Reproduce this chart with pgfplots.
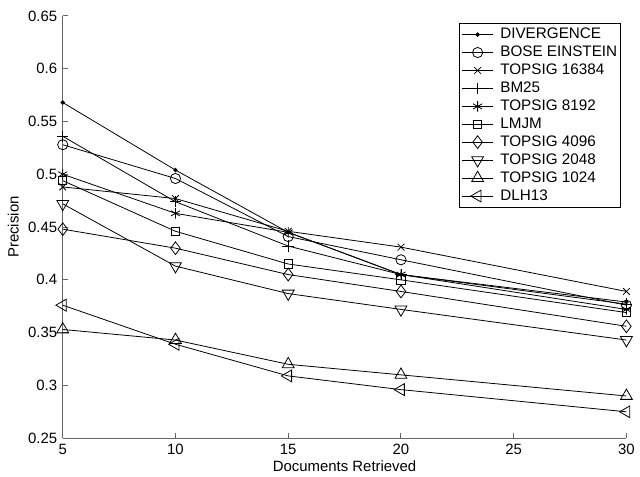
\documentclass[border=0pt]{standalone}
\usepackage{fontspec}
\setmainfont{Liberation Sans}
\usepackage{pgfplots}
\pgfplotsset{compat=1.18}
\begin{document}
\begin{tikzpicture}[font=\fontsize{9.4}{11.2}\selectfont]
\begin{axis}[
  scale only axis,
  width=353.75bp, height=265bp,
  xmin=5, xmax=30, ymin=0.25, ymax=0.65,
  xtick={5,10,15,20,25,30},
  ytick={0.25,0.3,0.35,0.4,0.45,0.5,0.55,0.6,0.65},
  /pgf/number format/assume math mode=true,
  yticklabel style={/pgf/number format/fixed,/pgf/number format/precision=2},
  axis x line*=bottom, axis y line*=left,
  axis line style={black!60, line width=0.6bp},
  tick style={black!60, line width=0.6bp},
  major tick length=3bp,
  tick align=inside,
  xlabel={Documents Retrieved},
  ylabel={Precision},
  xlabel style={at={(axis description cs:0.5,0)},anchor=center,yshift=-17.5bp},
  ylabel style={at={(axis description cs:0,0.5)},anchor=center,yshift=31bp},
  every axis plot/.append style={black, solid, line width=0.5bp},
  legend style={at={(0.991,0.983)}, anchor=north east, draw=black, line width=0.6bp, inner sep=1.5bp, row sep=0.5bp, font=\fontsize{9.6}{11.2}\selectfont, nodes={inner xsep=0.8bp, inner ysep=1.3bp}},
  legend cell align=left,
  legend image code/.code={\draw[mark repeat=2,mark phase=2] plot coordinates {(0bp,0bp) (9.7bp,0bp) (19.4bp,0bp)};},
]
\addplot[mark=*, mark size=1.1bp, mark options={solid}] coordinates {(5,0.568)(10,0.504)(15,0.445)(20,0.405)(30,0.379)};
\addlegendentry{\hspace{3.5bp}DIVERGENCE}
\addplot[mark=o, mark size=3.2bp, mark options={solid}] coordinates {(5,0.528)(10,0.496)(15,0.441)(20,0.419)(30,0.376)};
\addlegendentry{\hspace{3.5bp}BOSE EINSTEIN}
\addplot[mark=x, mark size=3bp, mark options={solid}] coordinates {(5,0.488)(10,0.477)(15,0.446)(20,0.431)(30,0.389)};
\addlegendentry{\hspace{3.5bp}TOPSIG 16384}
\addplot[mark=+, mark size=3.6bp, mark options={solid}] coordinates {(5,0.536)(10,0.474)(15,0.432)(20,0.405)(30,0.377)};
\addlegendentry{\hspace{3.5bp}BM25}
\addplot[mark=asterisk, mark size=3.3bp, mark options={solid}] coordinates {(5,0.500)(10,0.463)(15,0.445)(20,0.405)(30,0.372)};
\addlegendentry{\hspace{3.5bp}TOPSIG 8192}
\addplot[mark=square, mark size=2.6bp, mark options={solid}] coordinates {(5,0.494)(10,0.446)(15,0.415)(20,0.400)(30,0.369)};
\addlegendentry{\hspace{3.5bp}LMJM}
\addplot[mark=diamond, mark size=4bp, mark options={solid}] coordinates {(5,0.448)(10,0.430)(15,0.405)(20,0.389)(30,0.356)};
\addlegendentry{\hspace{3.5bp}TOPSIG 4096}
\addplot[mark=triangle, mark size=4.3bp, mark options={solid, rotate=180}] coordinates {(5,0.472)(10,0.413)(15,0.387)(20,0.372)(30,0.343)};
\addlegendentry{\hspace{3.5bp}TOPSIG 2048}
\addplot[mark=triangle, mark size=4.3bp, mark options={solid}] coordinates {(5,0.353)(10,0.343)(15,0.320)(20,0.310)(30,0.290)};
\addlegendentry{\hspace{3.5bp}TOPSIG 1024}
\addplot[mark=triangle, mark size=4.3bp, mark options={solid, rotate=90}] coordinates {(5,0.376)(10,0.339)(15,0.309)(20,0.296)(30,0.275)};
\addlegendentry{\hspace{3.5bp}DLH13}
\end{axis}
\path ([shift={(-39.375bp,-23.75bp)}]current axis.south west) rectangle ([shift={(6.875bp,10bp)}]current axis.north east);
\end{tikzpicture}
\end{document}
